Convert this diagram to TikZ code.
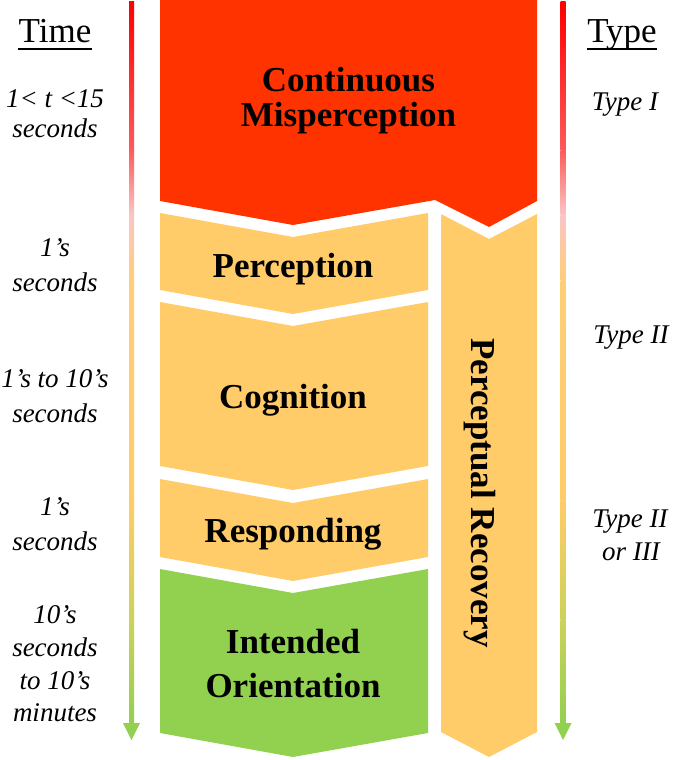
\documentclass[tikz,border=0pt]{standalone}
\usepackage{fontspec}
\setmainfont{Liberation Serif}
\definecolor{cmred}{HTML}{FF3300}
\definecolor{blkorange}{HTML}{FFCC69}
\definecolor{blkgreen}{HTML}{92D050}
\definecolor{arA}{HTML}{FF0000}
\definecolor{arB}{HTML}{FF5A5A}
\definecolor{arC}{HTML}{F9C6C6}
\definecolor{arD}{HTML}{FFCE78}
\definecolor{arE}{HTML}{FFCC66}
\definecolor{arF}{HTML}{CCD258}
\tikzset{
  blocktext/.style={font=\fontsize{35}{40}\selectfont\bfseries, anchor=base, inner sep=0pt},
  labeltext/.style={font=\fontsize{27}{32}\selectfont\itshape, anchor=base, inner sep=0pt},
  headtext/.style={font=\fontsize{35}{40}\selectfont, anchor=base, inner sep=0pt},
  uline/.style={line width=1.6pt},
}
\begin{document}
\begin{tikzpicture}[x=1pt,y=-1pt]
\useasboundingbox (0,0) rectangle (675,760);
% blocks
\fill[cmred] (160,0) -- (537,0) -- (537,201) -- (489,227) -- (435,200) -- (293,225) -- (160,201) -- cycle;
\fill[blkorange] (160,213) -- (293,237) -- (428,213) -- (428,290) -- (293,314) -- (160,290) -- cycle;
\fill[blkorange] (160,302) -- (293,326) -- (428,302) -- (428,466) -- (293,490) -- (160,466) -- cycle;
\fill[blkorange] (160,479) -- (293,503) -- (428,479) -- (428,557) -- (293,581) -- (160,557) -- cycle;
\fill[blkgreen] (160,569) -- (293,593) -- (428,569) -- (428,733) -- (293,757) -- (160,733) -- cycle;
\fill[blkorange] (441,214) -- (489,239) -- (537,214) -- (537,732) -- (489,757) -- (441,732) -- cycle;
% gradient arrows
\foreach \ax in {131.5,563}{
  \shade[top color=arA, bottom color=arB] (\ax-2.5,2) rectangle (\ax+2.5,150.5);
  \shade[top color=arB, bottom color=arC] (\ax-2.5,150) rectangle (\ax+2.5,215.5);
  \shade[top color=arC, bottom color=arD] (\ax-2.5,215) rectangle (\ax+2.5,280.5);
  \shade[top color=arD, bottom color=arE] (\ax-2.5,280) rectangle (\ax+2.5,500.5);
  \shade[top color=arE, bottom color=arF] (\ax-2.5,500) rectangle (\ax+2.5,620.5);
  \shade[top color=arF, bottom color=blkgreen] (\ax-2.5,620) rectangle (\ax+2.5,724);
  \fill[blkgreen] (\ax-8.5,723) -- (\ax+8.5,723) -- (\ax,740) -- cycle;
}
% block texts
\node[blocktext] (cm1) at (348.5,92) {Continuous};
\node[blocktext] (cm2) at (348.5,126) {Misperception};
\node[blocktext] (perc) at (293,277) {Perception};
\node[blocktext] (cogn) at (293,408) {Cognition};
\node[blocktext] (resp) at (293,542) {Responding};
\node[blocktext] (int1) at (293,653) {Intended};
\node[blocktext] (int2) at (293,697) {Orientation};
\node[blocktext, rotate=-90] (prec) at (471,493) {Perceptual Recovery};
% headers
\node[headtext] (time) at (55,43) {Time};
\draw[uline] ([yshift=-6pt]time.base west) -- ([yshift=-6pt]time.base east);
\node[headtext] (type) at (622,43) {Type};
\draw[uline] ([yshift=-6pt]type.base west) -- ([yshift=-6pt]type.base east);
% time labels
\node[labeltext] (t1a) at (55,107) {1< t <15};
\node[labeltext] (t1b) at (55,137) {seconds};
\node[labeltext] (t2a) at (55,256) {1’s};
\node[labeltext] (t2b) at (55,291) {seconds};
\node[labeltext] (t3a) at (55,387) {1’s to 10’s};
\node[labeltext] (t3b) at (55,422) {seconds};
\node[labeltext] (t4a) at (55,515) {1’s};
\node[labeltext] (t4b) at (55,550) {seconds};
\node[labeltext] (t5a) at (55,623) {10’s};
\node[labeltext] (t5b) at (55,656) {seconds};
\node[labeltext] (t5c) at (55,689) {to 10’s};
\node[labeltext] (t5d) at (55,721) {minutes};
% type labels
\node[labeltext] (y1) at (625,110) {Type I};
\node[labeltext] (y2) at (631,343) {Type II};
\node[labeltext] (y3a) at (630,527) {Type II};
\node[labeltext] (y3b) at (631,560) {or III};
\end{tikzpicture}
\end{document}
